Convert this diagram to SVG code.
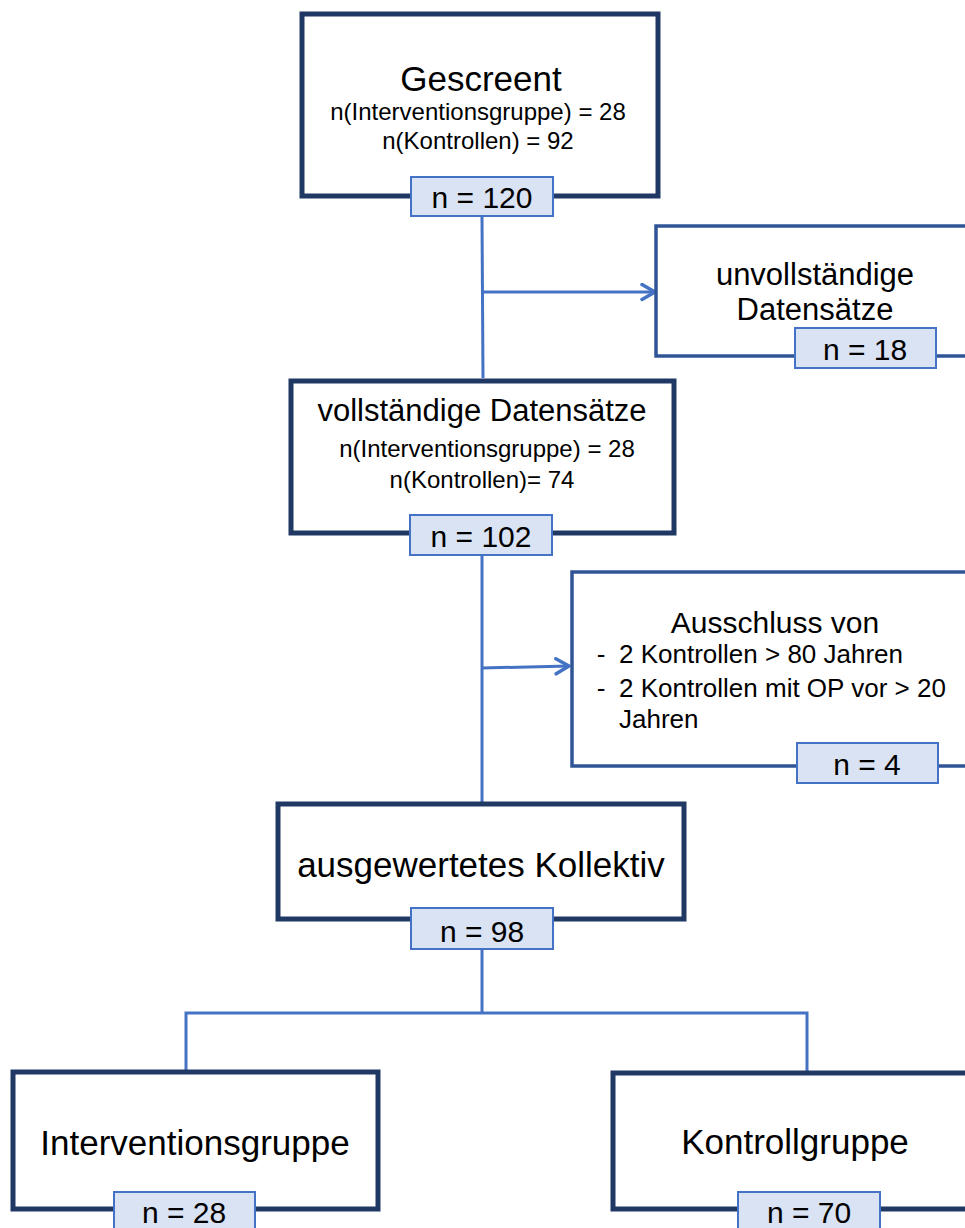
<svg xmlns="http://www.w3.org/2000/svg" width="965" height="1228" viewBox="0 0 965 1228">
<style>
text{font-family:"Liberation Sans",Arial,sans-serif;fill:#000;text-anchor:middle}
.main{fill:#fff;stroke:#203864;stroke-width:5}
.side{fill:#fff;stroke:#2F5597;stroke-width:3.5}
.lab{fill:#DAE3F3;stroke:#4472C4;stroke-width:2}
.con{fill:none;stroke:#4472C4;stroke-width:3}
.t35{font-size:35px}
.t31{font-size:31px}
.t30{font-size:30px}
.t26{font-size:26px}
.t24{font-size:24px}
</style>
<defs>
<marker id="arr" markerWidth="18" markerHeight="20" refX="15" refY="9" orient="auto" markerUnits="userSpaceOnUse">
<path d="M2,1.5 L15,9 L2,16.5" fill="none" stroke="#4472C4" stroke-width="3.5" stroke-linecap="round" stroke-linejoin="round"/>
</marker>
</defs>
<rect width="965" height="1228" fill="#fff"/>
<g id="connectors">
<path class="con" d="M482,217 L483,378"/>
<path class="con" d="M483,292 L655,292" marker-end="url(#arr)"/>
<path class="con" d="M482,555 L482,803"/>
<path class="con" d="M482,668 L569,666" marker-end="url(#arr)"/>
<path class="con" d="M482,950 L482,1013"/>
<path class="con" d="M186,1070 L186,1013 L807,1013 L807,1071"/>
</g>
<g id="node-gescreent">
<rect class="main" x="302" y="14" width="356" height="182"/>
<text class="t35" x="481" y="91">Gescreent</text>
<text class="t24" x="478" y="120">n(Interventionsgruppe) = 28</text>
<text class="t24" x="478" y="149">n(Kontrollen) = 92</text>
<rect class="lab" x="411" y="177" width="142" height="39"/>
<text class="t30" x="482" y="208">n = 120</text>
</g>
<g id="node-unvollstaendig">
<rect class="side" x="656" y="226" width="330" height="130"/>
<text class="t31" x="815" y="285">unvollständige</text>
<text class="t31" x="815" y="320">Datensätze</text>
<rect class="lab" x="795" y="328" width="141" height="40"/>
<text class="t30" x="865" y="360">n = 18</text>
</g>
<g id="node-vollstaendig">
<rect class="main" x="291" y="381" width="383" height="152"/>
<text class="t31" x="482" y="421">vollständige Datensätze</text>
<text class="t24" x="487" y="457">n(Interventionsgruppe) = 28</text>
<text class="t24" x="482" y="488">n(Kontrollen)= 74</text>
<rect class="lab" x="410" y="515" width="142" height="40"/>
<text class="t30" x="481" y="547">n = 102</text>
</g>
<g id="node-ausschluss">
<rect class="side" x="572" y="572" width="410" height="194"/>
<text class="t30" x="775" y="633">Ausschluss von</text>
<text class="t26" x="601" y="663">-</text>
<text class="t26" x="619" y="663" style="text-anchor:start">2 Kontrollen &gt; 80 Jahren</text>
<text class="t26" x="601" y="697">-</text>
<text class="t26" x="619" y="697" style="text-anchor:start">2 Kontrollen mit OP vor &gt; 20</text>
<text class="t26" x="619" y="728" style="text-anchor:start">Jahren</text>
<rect class="lab" x="797" y="743" width="141" height="40"/>
<text class="t30" x="867" y="775">n = 4</text>
</g>
<g id="node-ausgewertet">
<rect class="main" x="278" y="804" width="406" height="115"/>
<text class="t35" x="481" y="877">ausgewertetes Kollektiv</text>
<rect class="lab" x="411" y="908" width="142" height="41"/>
<text class="t30" x="482" y="942">n = 98</text>
</g>
<g id="node-intervention">
<rect class="main" x="13" y="1072" width="365" height="137"/>
<text class="t35" x="195" y="1155">Interventionsgruppe</text>
<rect class="lab" x="114" y="1192" width="141" height="44"/>
<text class="t30" x="184" y="1223">n = 28</text>
</g>
<g id="node-kontroll">
<rect class="main" x="613" y="1073" width="370" height="136"/>
<text class="t35" x="795" y="1154">Kontrollgruppe</text>
<rect class="lab" x="738" y="1192" width="142" height="44"/>
<text class="t30" x="809" y="1223">n = 70</text>
</g>
</svg>
